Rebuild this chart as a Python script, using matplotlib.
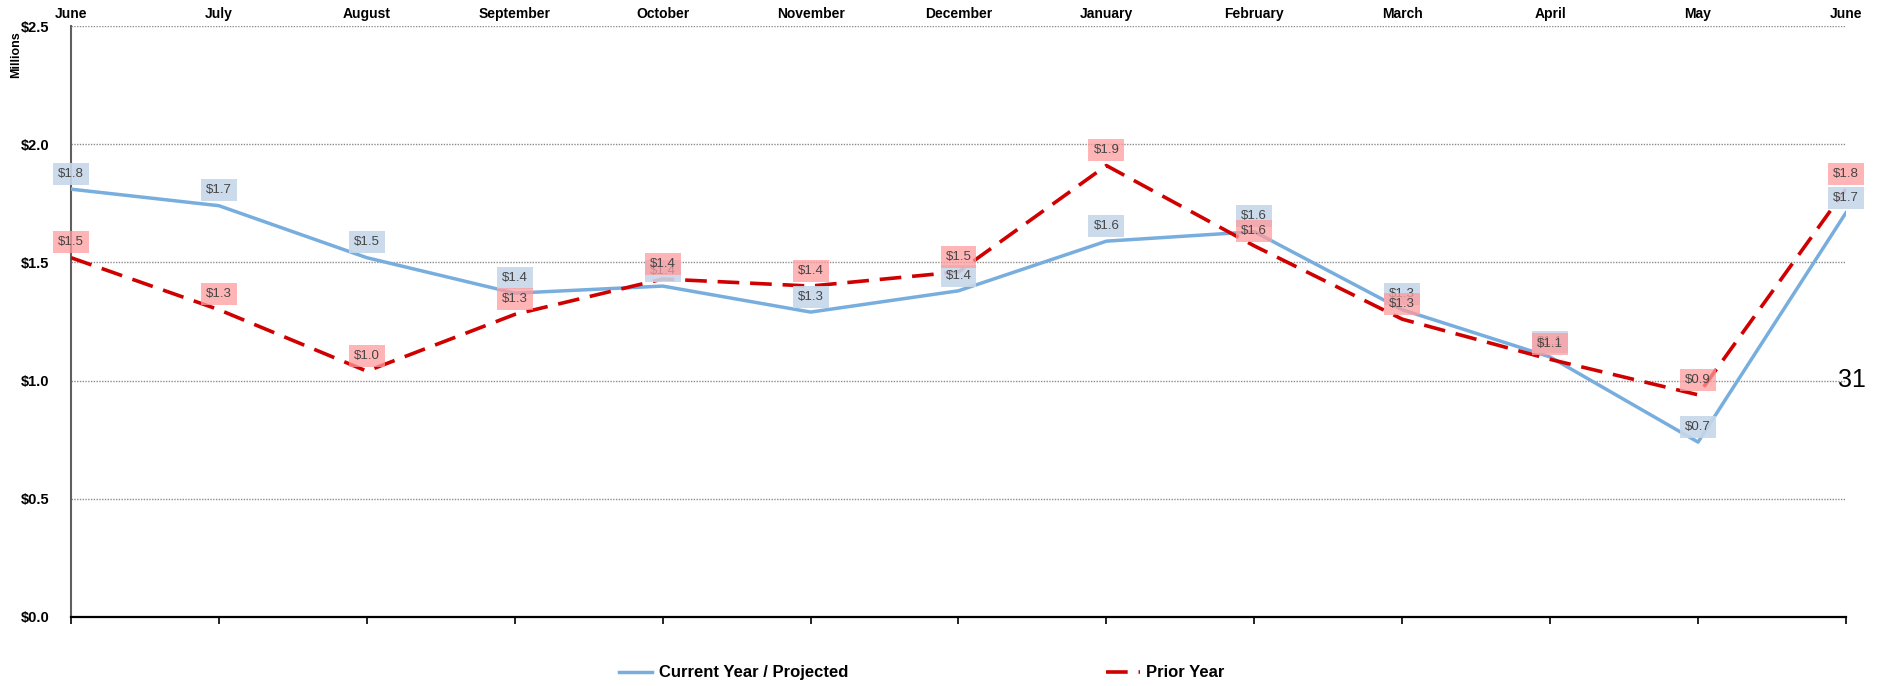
import matplotlib
matplotlib.use("Agg")
import matplotlib.pyplot as plt
from matplotlib.lines import Line2D

plt.rcParams['font.family'] = ['Liberation Sans', 'DejaVu Sans']

months = ["June", "July", "August", "September", "October", "November", "December",
          "January", "February", "March", "April", "May", "June"]
current_year = [1.81, 1.74, 1.52, 1.37, 1.40, 1.29, 1.38, 1.59, 1.63, 1.30, 1.10, 0.74, 1.71]
prior_year = [1.52, 1.30, 1.04, 1.28, 1.43, 1.40, 1.46, 1.91, 1.57, 1.26, 1.09, 0.94, 1.81]
y_ticks = [0.0, 0.5, 1.0, 1.5, 2.0, 2.5]

blue = '#78AEDE'
red = '#D00000'

fig = plt.figure(figsize=(18.89, 6.86), dpi=100)
ax = fig.add_axes([0.0376, 0.1006, 0.9396, 0.8614])

x = list(range(len(months)))

# gridlines first so lines sit above them
for t in y_ticks[1:]:
    ax.axhline(t, color='#8c8c8c', linestyle=(0, (1, 1)), linewidth=1.0, zorder=1)

ax.plot(x, current_year, color=blue, linewidth=2.5, zorder=3)
ax.plot(x, prior_year, color=red, linewidth=2.6, dashes=(6, 3), zorder=4)

# data labels
for xi, v in zip(x, current_year):
    ax.annotate(f"${v:.1f}", (xi, v), xytext=(0, 11), textcoords='offset points',
                ha='center', va='center', fontsize=9.5, color='#454545', zorder=5,
                bbox=dict(boxstyle='square,pad=0.38', fc='#c6d8ea', ec='none', alpha=0.9))
for xi, v in zip(x, prior_year):
    ax.annotate(f"${v:.1f}", (xi, v), xytext=(0, 11), textcoords='offset points',
                ha='center', va='center', fontsize=9.5, color='#454545', zorder=6,
                bbox=dict(boxstyle='square,pad=0.38', fc='#ff9c9c', ec='none', alpha=0.75))

ax.set_xlim(0, len(months) - 1)
ax.set_ylim(0, 2.5)
ax.set_xticks(x)
ax.set_xticklabels(months, fontsize=10, fontweight='bold')
# month names sit on top, tick marks stay at the bottom
ax.tick_params(axis='x', bottom=True, top=False, labelbottom=False, labeltop=True,
               direction='out', length=5, width=1.2, color='black', pad=-1.5)
ax.set_yticks(y_ticks)
ax.set_yticklabels([f"${t:.1f}" for t in y_ticks], fontsize=10.5, fontweight='bold')
ax.tick_params(axis='y', left=False, pad=12)

ax.spines['top'].set_visible(False)
ax.spines['right'].set_visible(False)
ax.spines['left'].set_color('#606060')
ax.spines['left'].set_linewidth(1.5)
ax.spines['bottom'].set_color('black')
ax.spines['bottom'].set_linewidth(1.6)

fig.text(0.0085, 0.921, "Millions", rotation=90, fontsize=9, fontweight='bold',
         ha='center', va='center')

fig.text(0.973, 0.446, "31", fontsize=18, ha='left', va='center')

handles = [Line2D([], [], color=blue, linewidth=2.5),
           Line2D([], [], color=red, linewidth=2.6, dashes=(6, 3))]
fig.legend(handles, ["Current Year / Projected", "Prior Year"], loc='center',
           bbox_to_anchor=(0.488, 0.019), ncol=2, frameon=False,
           prop={'weight': 'bold', 'size': 12}, handlelength=2.0,
           columnspacing=15.5, handletextpad=0.4)

fig.savefig("out.png", dpi=100)
